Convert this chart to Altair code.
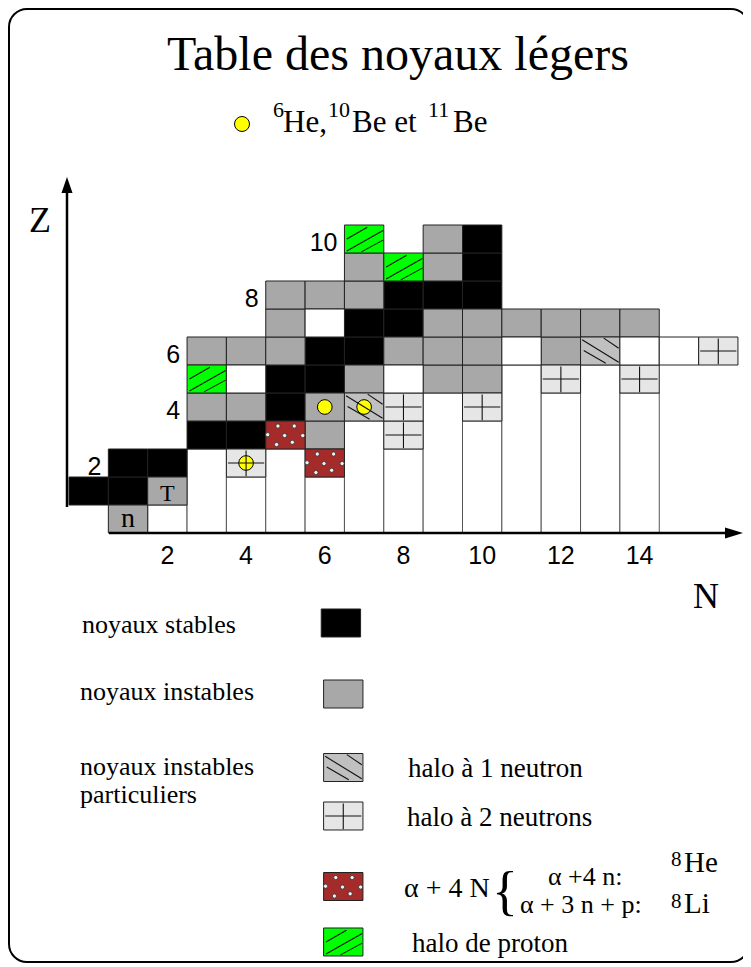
import altair as alt
import pandas as pd

# ---------------- data (N = neutrons, Z = protons) ----------------
stable_N = [0, 1, 1, 2, 3, 4, 5, 5, 6, 6, 7, 7, 8, 8, 9, 10, 10, 10]
stable_Z = [1, 1, 2, 2, 3, 3, 4, 5, 5, 6, 6, 7, 7, 8, 8, 8, 9, 10]

unstable_N = [1, 2, 6, 3, 4, 6, 7, 9, 10, 3, 4, 5, 8, 9, 10, 12, 5, 9, 10, 11, 12, 13, 14, 5, 6, 7, 7, 9, 9]
unstable_Z = [0, 1, 3, 4, 4, 4, 5, 5, 5, 6, 6, 6, 6, 6, 6, 6, 7, 7, 7, 7, 7, 7, 7, 8, 8, 8, 9, 9, 10]

halo1n_N = [7, 13]
halo1n_Z = [4, 6]

halo2n_N = [4, 8, 8, 10, 12, 14, 16]
halo2n_Z = [2, 3, 4, 4, 5, 5, 6]

alpha4n_N = [6, 5]
alpha4n_Z = [2, 3]

proton_N = [3, 8, 7]
proton_Z = [5, 9, 10]

empty_N = [4, 8, 6, 11, 14, 15]
empty_Z = [5, 5, 7, 6, 6, 6]

yellow_N = [4, 6, 7]
yellow_Z = [2, 4, 4]

tick_N = [2, 4, 6, 8, 10, 12, 14]
zlabel_Z = [2, 4, 6, 8, 10]

cell_text = ["n", "T"]
cell_text_N = [1, 2]
cell_text_Z = [0, 1]

# ---------------- layout / style ----------------
W, H = 735, 955
CELL_W, CELL_H = 39.35, 28.0
X0 = 61.0 + CELL_W / 2.0
Y0 = 511.0
XDOM = [(0 - X0) / CELL_W, (W - X0) / CELL_W]
YDOM = [(Y0 - H) / CELL_H, Y0 / CELL_H]
xs = alt.Scale(domain=XDOM, nice=False, zero=False)
ys = alt.Scale(domain=YDOM, nice=False, zero=False)

SERIF = "Liberation Serif"
SANS = "Liberation Sans"

KINDS = ["stable", "unstable", "halo1n", "halo2n", "alpha4n", "proton", "empty"]
COLORS = ["#000000", "#a8a8a8", "#c0c0c0", "#e6e6e6", "#a52a2a", "#00ff00", "#ffffff"]

# legend swatch centres (in cell units)
LEGEND_POS = {
    "stable": (6.41, -3.714),
    "unstable": (6.47, -6.25),
    "halo1n": (6.47, -8.875),
    "halo2n": (6.47, -10.607),
    "alpha4n": (6.47, -13.125),
    "proton": (6.47, -15.107),
}

PATTERN = {
    "halo1n": [(-0.42, 0.02, 0.14, -0.44), (-0.46, 0.40, 0.47, -0.40), (0.09, 0.46, 0.47, 0.10)],
    "halo2n": [(-0.46, 0.0, 0.46, 0.0), (0.0, -0.47, 0.0, 0.45)],
    "proton": [(-0.44, 0.0, 0.08, 0.42), (-0.44, -0.43, 0.48, 0.30), (-0.07, -0.46, 0.48, -0.04)],
}
DOTS = [(-0.19, 0.32), (0.225, 0.32), (-0.02, -0.02), (-0.45, 0.01), (0.44, -0.02),
        (-0.225, -0.34), (0.175, -0.26)]

# ---------------- tables built from the arrays ----------------
groups = [("stable", stable_N, stable_Z), ("unstable", unstable_N, unstable_Z),
          ("halo1n", halo1n_N, halo1n_Z), ("halo2n", halo2n_N, halo2n_Z),
          ("alpha4n", alpha4n_N, alpha4n_Z), ("proton", proton_N, proton_Z),
          ("empty", empty_N, empty_Z)]
rows = []
for kind, Ns, Zs in groups:
    for n, z in zip(Ns, Zs):
        rows.append({"kind": kind, "u": float(n), "v": float(z), "table": True})
for kind, (u, v) in LEGEND_POS.items():
    rows.append({"kind": kind, "u": u, "v": v, "table": False})
cells = pd.DataFrame(rows)
cells["x1"] = cells.u - 0.5
cells["x2"] = cells.u + 0.5
cells["y1"] = cells.v - 0.5
cells["y2"] = cells.v + 0.5

table = cells[cells.table]
col_rows = []
for n in range(2, 15):
    zmin = table[table.u == n].v.min()
    col_rows.append({"x1": n - 0.5, "x2": n + 0.5, "y1": -0.5, "y2": zmin - 0.5})
columns = pd.DataFrame(col_rows)

line_rows, dot_rows = [], []
for _, r in cells.iterrows():
    for (a, b, c, d) in PATTERN.get(r.kind, []):
        line_rows.append({"x": r.u + a, "y": r.v + b, "x2": r.u + c, "y2": r.v + d})
    if r.kind == "alpha4n":
        for (a, b) in DOTS:
            dot_rows.append({"x": r.u + a, "y": r.v + b})
lines = pd.DataFrame(line_rows)
dots = pd.DataFrame(dot_rows)

yellow = pd.DataFrame({"x": yellow_N, "y": yellow_Z})
ticks = pd.DataFrame({"n": tick_N, "label": [str(t) for t in tick_N]})
zl = []
for z in zlabel_Z:
    zl.append({"x": table[table.v == z].u.min() - 0.5, "y": z, "label": str(z)})
zlabels = pd.DataFrame(zl)
ctext = pd.DataFrame({"x": cell_text_N, "y": cell_text_Z, "label": cell_text})

ONE = pd.DataFrame({"k": [0]})

# ---------------- layers ----------------
frame = alt.Chart(ONE).mark_rect(fillOpacity=0, stroke="black", strokeWidth=2, cornerRadius=18).encode(
    x=alt.value(1), x2=alt.value(W + 6), y=alt.value(1), y2=alt.value(H - 1))

col_layer = alt.Chart(columns).mark_rect(fill="white", stroke="#555", strokeWidth=1).encode(
    x=alt.X("x1:Q", scale=xs, axis=None), x2="x2:Q",
    y=alt.Y("y1:Q", scale=ys, axis=None), y2="y2:Q")

cell_layer = alt.Chart(cells).mark_rect(stroke="#222", strokeWidth=1).encode(
    x=alt.X("x1:Q", scale=xs, axis=None), x2="x2:Q",
    y=alt.Y("y1:Q", scale=ys, axis=None), y2="y2:Q",
    fill=alt.Fill("kind:N", scale=alt.Scale(domain=KINDS, range=COLORS), legend=None))

yellow_layer = alt.Chart(yellow).mark_circle(color="#ffff00", stroke="black", strokeWidth=1,
                                               size=215, opacity=1).encode(
    x=alt.X("x:Q", scale=xs, axis=None), y=alt.Y("y:Q", scale=ys, axis=None))

line_layer = alt.Chart(lines).mark_rule(color="#111", strokeWidth=1.1).encode(
    x=alt.X("x:Q", scale=xs, axis=None), x2="x2:Q",
    y=alt.Y("y:Q", scale=ys, axis=None), y2="y2:Q")

dot_layer = alt.Chart(dots).mark_circle(color="#f0f0f0", stroke="#333", strokeWidth=0.8,
                                        size=18, opacity=1).encode(
    x=alt.X("x:Q", scale=xs, axis=None), y=alt.Y("y:Q", scale=ys, axis=None))

zlabel_layer = alt.Chart(zlabels).mark_text(align="right", baseline="alphabetic", dx=-7, dy=12,
                                            fontSize=25, font=SANS, color="black").encode(
    x=alt.X("x:Q", scale=xs, axis=None), y=alt.Y("y:Q", scale=ys, axis=None), text="label:N")

tick_layer = alt.Chart(ticks).mark_text(align="center", baseline="alphabetic", fontSize=25,
                                        font=SANS, color="black").encode(
    x=alt.X("n:Q", scale=xs, axis=None), y=alt.value(556), text="label:N")

n_layer = alt.Chart(ctext[ctext.label == "n"]).mark_text(align="center", baseline="alphabetic", dy=8,
                                                        fontSize=28, font=SERIF, color="black").encode(
    x=alt.X("x:Q", scale=xs, axis=None), y=alt.Y("y:Q", scale=ys, axis=None), text="label:N")
t_layer = alt.Chart(ctext[ctext.label == "T"]).mark_text(align="center", baseline="alphabetic", dy=10,
                                                        fontSize=24, font=SERIF, color="black").encode(
    x=alt.X("x:Q", scale=xs, axis=None), y=alt.Y("y:Q", scale=ys, axis=None), text="label:N")

xaxis = alt.Chart(ONE).mark_rule(color="black", strokeWidth=2.5).encode(
    x=alt.value(101), x2=alt.value(722), y=alt.value(525))
yaxis = alt.Chart(ONE).mark_rule(color="black", strokeWidth=2.5).encode(
    x=alt.value(59), y=alt.value(499), y2=alt.value(182))
xarrow = alt.Chart(ONE).mark_point(shape="M-1,-0.61L1,0L-1,0.61Z", filled=True, color="black",
                                   size=324, opacity=1).encode(x=alt.value(726), y=alt.value(525))
yarrow = alt.Chart(ONE).mark_point(shape="M-0.69,1L0,-1L0.69,1Z", filled=True, color="black",
                                   size=256, opacity=1).encode(x=alt.value(59), y=alt.value(177))

legend_circle = alt.Chart(ONE).mark_circle(color="#ffff00", stroke="black", strokeWidth=1,
                                           size=225, opacity=1).encode(x=alt.value(234), y=alt.value(116))


def label(text, x, y, size, font=SERIF, align="left"):
    return alt.Chart(ONE).mark_text(text=text, align=align, baseline="alphabetic", fontSize=size,
                                    font=font, color="black").encode(x=alt.value(x), y=alt.value(y))


texts = [
    label("Table des noyaux légers", 390, 62, 48, align="center"),
    label("6", 265, 109, 22), label("He,", 275, 124, 31),
    label("10", 320, 109, 22), label("Be et", 344, 124, 31),
    label("11", 420, 109, 22), label("Be", 445, 124, 31),
    label("Z", 21, 224, 36),
    label("N", 698, 600, 36, align="center"),
    label("noyaux stables", 74, 625, 26),
    label("noyaux instables", 72, 692, 26),
    label("noyaux instables", 72, 767, 26),
    label("particuliers", 72, 795, 26),
    label("halo à 1 neutron", 400, 769, 27),
    label("halo à 2 neutrons", 399, 818, 27),
    label("α + 4 N", 396, 889, 28),
    label("{", 484, 901, 54),
    label("α +4 n:", 540, 877, 26),
    label("α + 3 n + p:", 512, 905, 26),
    label("8", 663, 858, 21), label("He", 676, 864, 29),
    label("8", 663, 900, 21), label("Li", 676, 905, 29),
    label("halo de proton", 404, 944, 27),
]

chart = alt.layer(
    frame, col_layer, cell_layer, yellow_layer, line_layer, dot_layer,
    zlabel_layer, tick_layer, n_layer, t_layer,
    xaxis, yaxis, xarrow, yarrow, legend_circle, *texts
).properties(
    width=W, height=H, padding=0, autosize=alt.AutoSizeParams(type="none")
).configure_view(stroke=None)

chart.save("out.html", embed_options={"renderer": "svg", "actions": False})
